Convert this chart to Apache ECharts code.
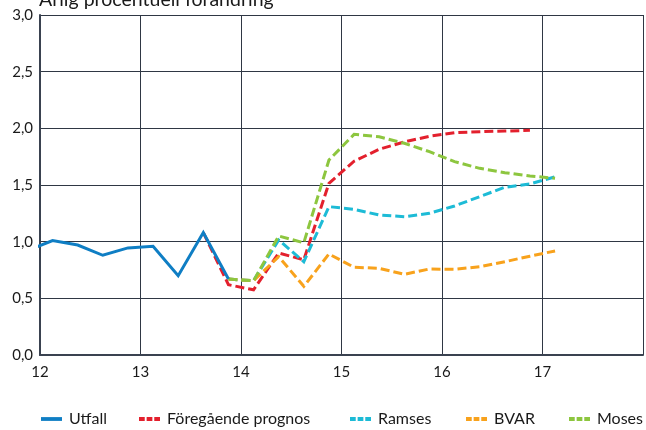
<!DOCTYPE html>
<html>
<head>
<meta charset="utf-8">
<script src="https://cdn.jsdelivr.net/npm/echarts@6/dist/echarts.min.js"></script>
<style>
html,body{margin:0;padding:0;background:#fff;}
#chart{width:646px;height:430px;}
</style>
</head>
<body>
<div id="chart"></div>
<script>
// Quarterly values, positioned at mid-quarter (year + (q-0.5)/4)
const seriesNames = ['Utfall', 'Föregående prognos', 'Ramses', 'BVAR', 'Moses'];
const colors = ['#0f7ec4', '#e3202d', '#1dbbd6', '#f8a21c', '#8dc63f'];

const utfallStart = 11.875;
const utfall = [0.92, 1.01, 0.97, 0.88, 0.945, 0.96, 0.70, 1.08, 0.67];

const foregaendeStart = 13.625;
const foregaende = [1.08, 0.62, 0.575, 0.90, 0.84, 1.515, 1.71, 1.815, 1.88, 1.93, 1.962, 1.97, 1.976, 1.982];

const modelStart = 13.875;
const ramses = [0.67, 0.655, 1.015, 0.823, 1.309, 1.285, 1.235, 1.22, 1.25, 1.315, 1.397, 1.48, 1.51, 1.572];
const bvar   = [0.67, 0.655, 0.868, 0.606, 0.891, 0.774, 0.765, 0.712, 0.759, 0.756, 0.779, 0.823, 0.872, 0.918];
const moses  = [0.67, 0.655, 1.05, 0.99, 1.72, 1.947, 1.926, 1.868, 1.794, 1.706, 1.647, 1.609, 1.58, 1.559];

const xTicks = [12, 13, 14, 15, 16, 17];
const yTicks = [0, 0.5, 1, 1.5, 2, 2.5, 3];

function toPoints(start, vals) {
  return vals.map((v, i) => [start + i * 0.25, v]);
}

const font = 'Lato, "Open Sans", sans-serif';
const dashIcon = 'path://M0,0h6v4h-6z M8,0h6v4h-6z M16,0h6v4h-6z';
const solidIcon = 'path://M0,0h22v4h-22z';
const legendLeft = [41, 139, 350, 466, 569];

function lineSeries(name, data, color, dashed, z) {
  return {
    name: name,
    type: 'line',
    data: data,
    showSymbol: false,
    symbol: 'none',
    clip: true,
    z: z,
    lineStyle: { color: color, width: 3, type: dashed ? [9, 4] : 'solid', join: 'miter' },
    itemStyle: { color: color },
    emphasis: { disabled: true }
  };
}

const legends = seriesNames.map((n, i) => ({
  top: 411,
  left: legendLeft[i],
  padding: 0,
  itemWidth: 21,
  itemHeight: 4,
  itemGap: 0,
  textStyle: { fontFamily: font, fontSize: 16, color: '#1a1a1a', padding: [0, 0, 0, 2] },
  data: [{ name: n, icon: i === 0 ? solidIcon : dashIcon }]
}));

const chart = echarts.init(document.getElementById('chart'), null, { renderer: 'canvas' });
chart.setOption({
  animation: false,
  backgroundColor: '#ffffff',
  textStyle: { fontFamily: font },
  title: {
    text: 'Årlig procentuell förändring',
    left: 34,
    top: -15,
    textStyle: { fontFamily: font, fontSize: 19.5, fontWeight: 'normal', color: '#1a1a1a' }
  },
  grid: { left: 40, right: 0, top: 15, bottom: 75, containLabel: false },
  legend: legends,
  xAxis: {
    type: 'value',
    min: 12,
    max: 18,
    interval: 1,
    axisLine: { show: true, onZero: false, lineStyle: { color: '#3a4250', width: 2 } },
    axisTick: { show: false },
    axisLabel: {
      fontFamily: font, fontSize: 15, color: '#1a1a1a', margin: 10,
      formatter: v => (xTicks.indexOf(v) >= 0 ? String(v) : '')
    },
    splitLine: { show: true, lineStyle: { color: '#2f3744', width: 1 } }
  },
  yAxis: {
    type: 'value',
    min: 0,
    max: 3,
    interval: 0.5,
    axisLine: { show: true, lineStyle: { color: '#3a4250', width: 2 } },
    axisTick: { show: false },
    axisLabel: {
      fontFamily: font, fontSize: 15, color: '#1a1a1a', margin: 7,
      formatter: v => (yTicks.indexOf(v) >= 0 ? v.toFixed(1).replace('.', ',') : '')
    },
    splitLine: { show: true, lineStyle: { color: '#2f3744', width: 1 } }
  },
  series: [
    lineSeries(seriesNames[0], toPoints(utfallStart, utfall), colors[0], false, 6),
    lineSeries(seriesNames[1], toPoints(foregaendeStart, foregaende), colors[1], true, 2),
    lineSeries(seriesNames[2], toPoints(modelStart, ramses), colors[2], true, 3),
    lineSeries(seriesNames[3], toPoints(modelStart, bvar), colors[3], true, 4),
    lineSeries(seriesNames[4], toPoints(modelStart, moses), colors[4], true, 5)
  ]
});
</script>
</body>
</html>
